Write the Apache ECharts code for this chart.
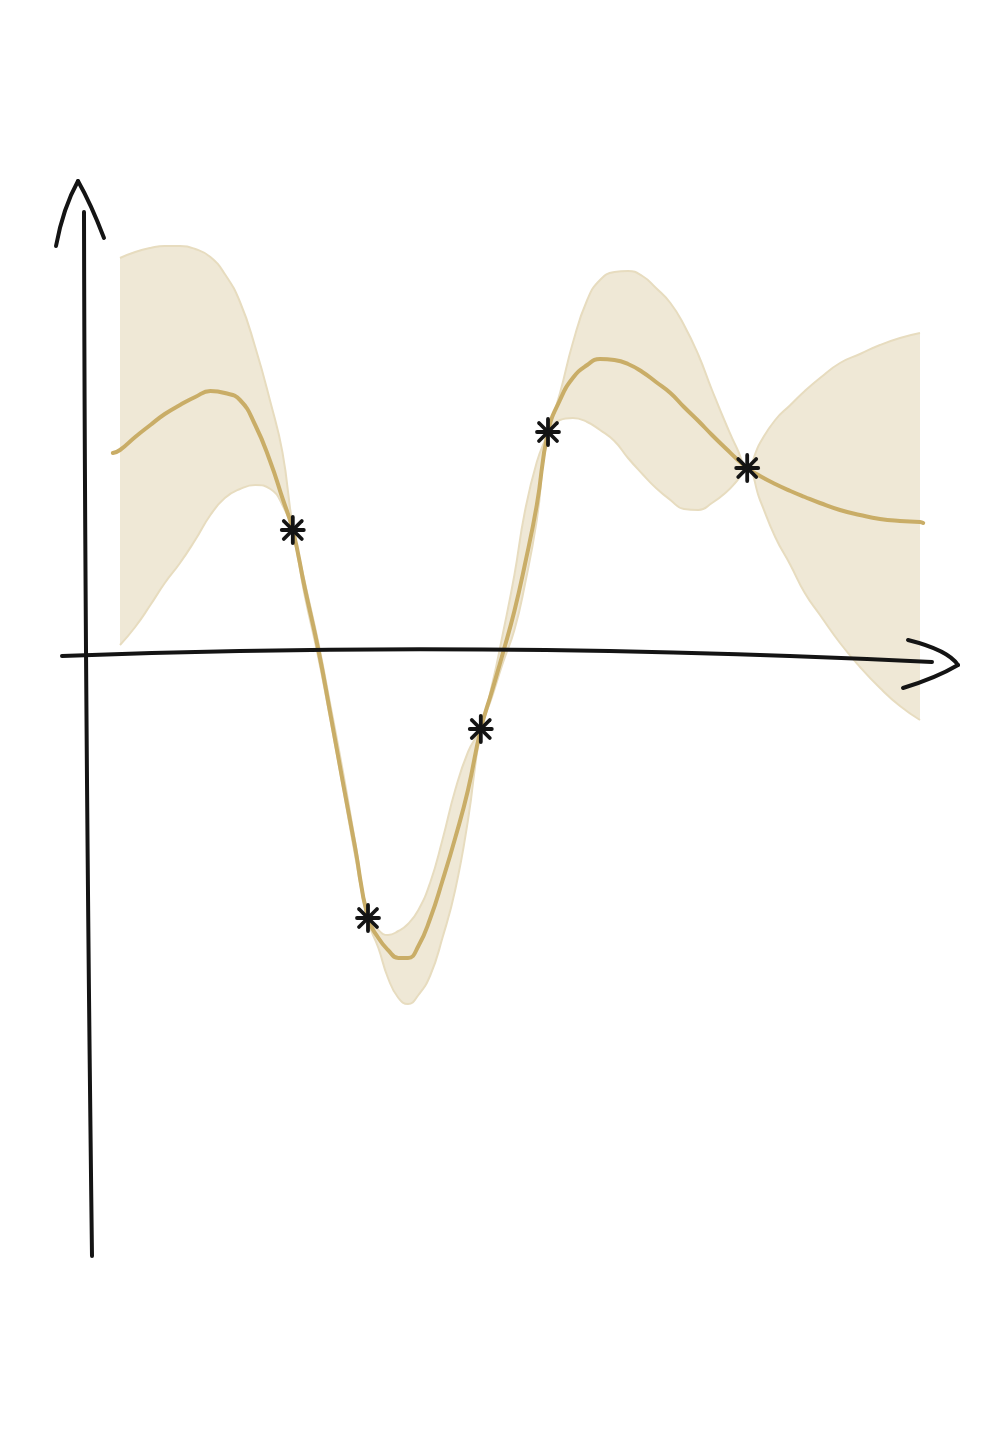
<!DOCTYPE html>
<html>
<head>
<meta charset="utf-8">
<script src="https://cdn.jsdelivr.net/npm/echarts@6/dist/echarts.min.js"></script>
<style>
  html, body { margin: 0; padding: 0; background: #ffffff; }
  #chart { width: 1000px; height: 1431px; }
</style>
</head>
<body>
<div id="chart"></div>
<script>
// ---- data ----
const bandX = [0.00,0.19,0.38,0.56,0.75,0.94,1.13,1.31,1.50,1.69,1.88,2.03,2.16,2.31,2.48,2.63,2.79,2.94,3.10,3.23,3.35,3.48,3.60,3.73,3.88,4.03,4.19,4.35,4.51,4.65,4.79,4.93,5.06,5.21,5.35,5.50,5.66,5.84,6.00,6.18,6.35,6.53,6.70,6.88,7.05,7.23,7.40,7.58,7.71,7.84,8.00,8.19,8.38,8.56,8.75,9.00,9.25,9.50,9.75,10.00];
const upperY = [3.97,4.03,4.07,4.09,4.09,4.06,3.98,3.81,3.53,3.08,2.53,2.03,1.29,0.73,0.12,-0.50,-1.18,-1.87,-2.60,-2.75,-2.80,-2.76,-2.69,-2.55,-2.27,-1.85,-1.35,-0.97,-0.72,-0.30,0.23,0.80,1.43,1.93,2.23,2.62,3.12,3.55,3.75,3.83,3.84,3.79,3.67,3.52,3.30,3.00,2.65,2.30,2.07,1.88,2.12,2.35,2.50,2.64,2.77,2.92,3.01,3.10,3.17,3.22];
const lowerY = [0.10,0.28,0.50,0.72,0.92,1.15,1.40,1.57,1.66,1.70,1.66,1.50,1.22,0.59,-0.03,-0.65,-1.34,-2.01,-2.66,-2.93,-3.23,-3.43,-3.49,-3.40,-3.20,-2.83,-2.35,-1.65,-0.76,-0.42,-0.07,0.25,0.70,1.35,2.19,2.35,2.37,2.33,2.25,2.14,1.97,1.81,1.67,1.55,1.46,1.45,1.52,1.63,1.74,1.86,1.55,1.18,0.90,0.62,0.40,0.12,-0.12,-0.33,-0.51,-0.65];
const meanX = [-0.09,0.00,0.19,0.38,0.56,0.75,0.94,1.13,1.31,1.50,1.69,1.88,2.03,2.16,2.31,2.48,2.63,2.79,2.94,3.10,3.23,3.35,3.48,3.60,3.73,3.88,4.03,4.19,4.35,4.51,4.65,4.79,4.93,5.06,5.21,5.35,5.50,5.66,5.84,6.00,6.18,6.35,6.53,6.70,6.88,7.05,7.23,7.40,7.58,7.71,7.84,8.00,8.19,8.38,8.56,8.75,9.00,9.25,9.50,9.75,10.00,10.04];
const meanY = [2.02,2.05,2.18,2.30,2.41,2.50,2.58,2.64,2.62,2.55,2.30,1.93,1.57,1.25,0.67,0.05,-0.59,-1.29,-1.93,-2.63,-2.83,-2.95,-3.03,-3.03,-2.91,-2.63,-2.26,-1.83,-1.35,-0.74,-0.36,0.03,0.44,0.90,1.50,2.23,2.55,2.77,2.90,2.96,2.95,2.91,2.83,2.73,2.62,2.48,2.34,2.20,2.06,1.96,1.87,1.79,1.71,1.64,1.58,1.52,1.45,1.40,1.36,1.34,1.33,1.32];
const obsX = [2.16, 3.10, 4.51, 5.35, 7.84];
const obsY = [1.25, -2.63, -0.74, 2.23, 1.87];

// ---- build library data ----
const upperData = bandX.map((x, i) => [x, upperY[i]]);
const lowerData = bandX.map((x, i) => [x, lowerY[i]]);
const meanData = meanX.map((x, i) => [x, meanY[i]]);
const obsData = obsX.map((x, i) => [x, obsY[i]]);

const SMOOTH = 0.5;
const INK = '#141414';
const GOLD = '#c9ad67';
const BAND = '#efe8d6';
const EDGE = '#e7dcbf';

const chart = echarts.init(document.getElementById('chart'), null, { renderer: 'canvas' });

function asterisk(params, api) {
  const p = api.coord([api.value(0), api.value(1)]);
  const arms = [[0, -13, 0, 13], [-11, 0, 11, 0], [-9, -9, 9, 9], [-9, 9, 9, -9]];
  return {
    type: 'group',
    children: arms.map(a => ({
      type: 'line',
      shape: { x1: p[0] + a[0], y1: p[1] + a[1], x2: p[0] + a[2], y2: p[1] + a[3] },
      style: { stroke: INK, lineWidth: 3.8, lineCap: 'round' }
    }))
  };
}

const axisStyle = { stroke: INK, lineWidth: 4, lineCap: 'round', fill: null };

chart.setOption({
  animation: false,
  backgroundColor: '#ffffff',
  grid: { left: 112, right: 76, top: 155, bottom: 176 },
  xAxis: { type: 'value', min: -0.1, max: 10.05, show: false },
  yAxis: { type: 'value', min: -6, max: 5, show: false },
  series: [
    {
      // upper edge of the band, filled down to the bottom of the plot
      name: 'upper', type: 'line', data: upperData, z: 1,
      smooth: SMOOTH, showSymbol: false, symbol: 'none',
      lineStyle: { color: EDGE, width: 2 },
      areaStyle: { color: BAND, opacity: 1, origin: 'start' }
    },
    {
      // lower edge of the band; white fill below it cuts the band
      name: 'lower', type: 'line', data: lowerData, z: 2,
      smooth: SMOOTH, showSymbol: false, symbol: 'none',
      lineStyle: { color: EDGE, width: 2 },
      areaStyle: { color: '#ffffff', opacity: 1, origin: 'start' }
    },
    {
      name: 'mean', type: 'line', data: meanData, z: 3,
      smooth: SMOOTH, showSymbol: false, symbol: 'none',
      lineStyle: { color: GOLD, width: 4, cap: 'round' }
    },
    {
      name: 'observations', type: 'custom', data: obsData, z: 5,
      encode: { x: 0, y: 1 },
      renderItem: asterisk
    }
  ],
  graphic: {
    elements: [
      { type: 'bezierCurve', shape: { x1: 84, y1: 212, cpx1: 85, cpy1: 700, x2: 92, y2: 1256 }, style: axisStyle, z: 10 },
      { type: 'bezierCurve', shape: { x1: 56, y1: 246, cpx1: 63, cpy1: 208, x2: 78, y2: 181 }, style: axisStyle, z: 10 },
      { type: 'bezierCurve', shape: { x1: 78, y1: 181, cpx1: 91, cpy1: 204, x2: 104, y2: 238 }, style: axisStyle, z: 10 },
      { type: 'bezierCurve', shape: { x1: 62, y1: 656, cpx1: 480, cpy1: 640, x2: 932, y2: 662 }, style: axisStyle, z: 10 },
      { type: 'bezierCurve', shape: { x1: 908, y1: 640, cpx1: 948, cpy1: 650, x2: 958, y2: 665 }, style: axisStyle, z: 10 },
      { type: 'bezierCurve', shape: { x1: 958, y1: 665, cpx1: 936, cpy1: 678, x2: 903, y2: 688 }, style: axisStyle, z: 10 }
    ]
  }
});
</script>
</body>
</html>
